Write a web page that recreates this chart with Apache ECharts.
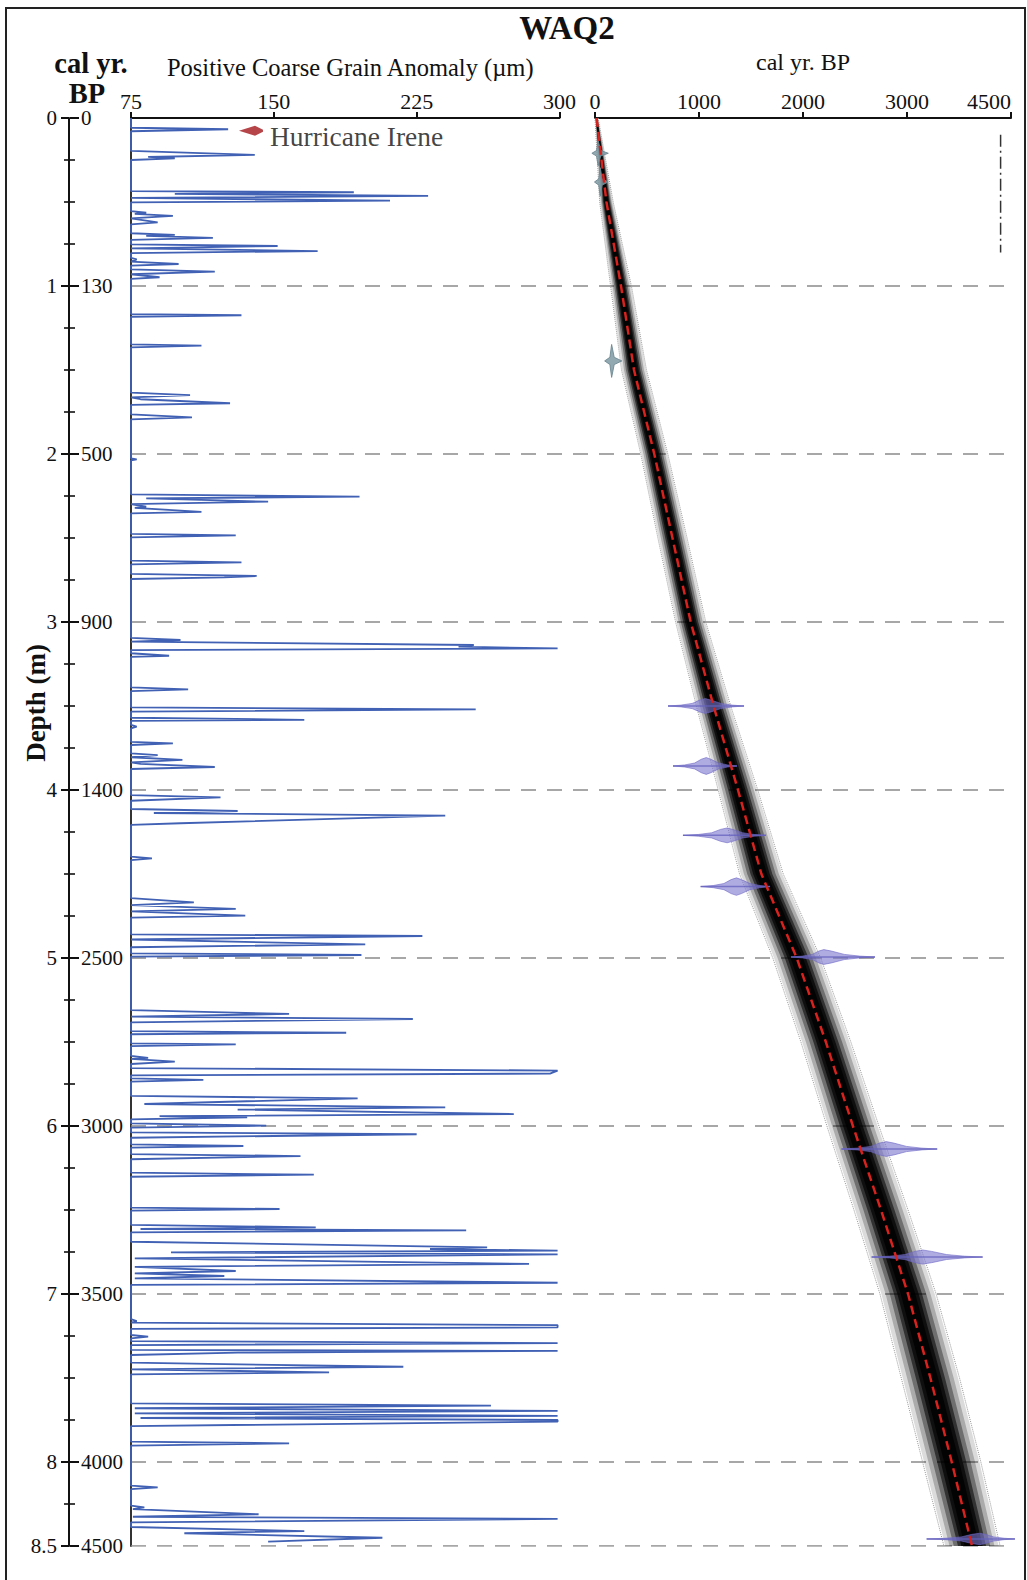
<!DOCTYPE html>
<html>
<head>
<meta charset="utf-8">
<title>WAQ2</title>
<script src="https://cdn.jsdelivr.net/npm/echarts@6/dist/echarts.min.js"></script>
<style>
  html, body { margin: 0; padding: 0; background: #fff; }
  #chart { width: 1027px; height: 1580px; }
</style>
</head>
<body>
<div id="chart"></div>
<script>
const SERIF = 'Liberation Serif, DejaVu Serif, serif';

// depth axis (m) and the matching cal yr BP labels
const depthTicks = [0, 1, 2, 3, 4, 5, 6, 7, 8, 8.5];
const calBpTicks = [0, 130, 500, 900, 1400, 2500, 3000, 3500, 4000, 4500];
const gridDepths = [1, 2, 3, 4, 5, 6, 7, 8, 8.5];

// positive coarse grain anomaly profile, [depth m, µm]
const grainM0 = [
  [0, 75], [0.058, 75], [0.067, 126], [0.079, 75],
  [0.196, 75], [0.220, 140], [0.232, 84], [0.240, 98], [0.250, 75],
  [0.435, 75], [0.442, 192], [0.452, 98], [0.463, 231], [0.476, 75], [0.492, 211], [0.502, 75],
  [0.554, 75], [0.564, 83], [0.571, 77], [0.583, 97], [0.597, 75], [0.621, 89], [0.633, 75],
  [0.686, 75], [0.696, 98], [0.702, 83], [0.713, 118], [0.726, 75], [0.752, 75], [0.762, 152],
  [0.776, 75], [0.792, 173], [0.804, 75],
  [0.833, 75], [0.842, 78], [0.855, 75], [0.869, 100], [0.879, 75], [0.901, 75], [0.915, 119],
  [0.930, 75], [0.948, 90], [0.958, 75]
];
const grainM1 = [
  [1.167, 75], [1.174, 133], [1.183, 75],
  [1.347, 75], [1.355, 112], [1.365, 75],
  [1.635, 75], [1.649, 106], [1.663, 75], [1.674, 80], [1.698, 127], [1.708, 75],
  [1.764, 75], [1.782, 107], [1.794, 75]
];
const grainM2 = [
  [2.026, 75], [2.032, 78], [2.038, 75],
  [2.240, 75], [2.254, 195], [2.264, 83], [2.284, 147], [2.298, 75], [2.314, 83], [2.321, 77],
  [2.344, 112], [2.353, 75],
  [2.476, 75], [2.484, 130], [2.496, 75],
  [2.635, 75], [2.645, 133], [2.657, 75],
  [2.714, 75], [2.726, 141], [2.734, 124], [2.744, 75]
];
const grainM3 = [
  [3.094, 75], [3.107, 101], [3.117, 75], [3.137, 255], [3.147, 247], [3.157, 299], [3.167, 75],
  [3.186, 75], [3.201, 95], [3.208, 75],
  [3.389, 75], [3.401, 105], [3.411, 75],
  [3.508, 75], [3.520, 256], [3.534, 75],
  [3.570, 75], [3.582, 166], [3.589, 75],
  [3.613, 75], [3.623, 78], [3.633, 75],
  [3.713, 75], [3.722, 97], [3.732, 75],
  [3.782, 75], [3.792, 89], [3.805, 75], [3.821, 102], [3.836, 75], [3.845, 80], [3.863, 119], [3.875, 75]
];
const grainM4 = [
  [4.030, 75], [4.044, 122], [4.064, 75],
  [4.113, 75], [4.125, 131], [4.137, 87], [4.153, 240], [4.198, 101], [4.208, 75],
  [4.397, 75], [4.407, 86], [4.417, 75],
  [4.643, 75], [4.669, 108], [4.685, 75], [4.708, 130], [4.723, 75], [4.748, 135], [4.760, 75],
  [4.859, 75], [4.869, 228], [4.890, 75], [4.919, 198], [4.936, 75],
  [4.972, 75], [4.982, 196], [4.992, 75]
];
const grainM5 = [
  [5.310, 75], [5.333, 158], [5.349, 75], [5.363, 223], [5.383, 75],
  [5.435, 75], [5.445, 188], [5.454, 75],
  [5.508, 75], [5.514, 130], [5.524, 75],
  [5.583, 75], [5.594, 84], [5.601, 75], [5.617, 98], [5.631, 75],
  [5.655, 75], [5.670, 299], [5.688, 295], [5.699, 75],
  [5.716, 75], [5.726, 113], [5.736, 75],
  [5.821, 75], [5.835, 194], [5.869, 82], [5.889, 240], [5.902, 131], [5.929, 276], [5.941, 90],
  [5.948, 136], [5.961, 75],
  [5.984, 75], [5.998, 146], [6.010, 75]
];
const grainM6 = [
  [6.038, 75], [6.049, 225], [6.070, 75],
  [6.109, 75], [6.119, 134], [6.129, 75],
  [6.167, 75], [6.179, 164], [6.198, 75],
  [6.278, 75], [6.290, 171], [6.302, 75],
  [6.486, 75], [6.494, 153], [6.504, 75],
  [6.589, 75], [6.603, 172], [6.613, 80], [6.621, 251], [6.633, 75],
  [6.689, 75], [6.722, 262], [6.732, 232], [6.742, 299], [6.752, 96], [6.764, 299], [6.788, 77],
  [6.821, 284], [6.838, 77], [6.863, 130], [6.877, 77], [6.893, 124], [6.907, 77], [6.933, 299], [6.946, 75]
];
const grainM7 = [
  [7.149, 75], [7.161, 78], [7.170, 75], [7.185, 299], [7.199, 299], [7.208, 75],
  [7.244, 75], [7.254, 84], [7.264, 75],
  [7.280, 75], [7.292, 299], [7.304, 75],
  [7.333, 75], [7.339, 299], [7.349, 131], [7.363, 75],
  [7.409, 75], [7.433, 218], [7.449, 75], [7.466, 179], [7.478, 75],
  [7.651, 75], [7.665, 264], [7.680, 77], [7.696, 299], [7.710, 77], [7.726, 299], [7.738, 80],
  [7.750, 299], [7.760, 299], [7.786, 75],
  [7.879, 75], [7.889, 158], [7.903, 75]
];
const grainM8 = [
  [8.141, 75], [8.151, 89], [8.161, 75],
  [8.260, 75], [8.270, 82], [8.280, 76], [8.311, 142], [8.326, 76], [8.339, 299], [8.359, 75],
  [8.387, 75], [8.411, 166], [8.424, 103], [8.451, 207], [8.474, 147]
];
const grainTicks = [75, 150, 225, 300];

// age-depth model (cal yr BP on the right panel)
const ageTickLabels = ['0', '1000', '2000', '3000', '4500'];
const modelDepth = [0, 0.5, 1, 1.5, 2, 2.5, 3, 3.5, 4, 4.5, 5, 5.5, 6, 6.5, 7, 7.5, 8, 8.5];
const modelMean = [15, 110, 250, 375, 570, 745, 920, 1140, 1375, 1600, 1940, 2220, 2480, 2750, 3010, 3225, 3430, 3625];
const modelLower = [0, 45, 150, 255, 440, 605, 775, 975, 1185, 1390, 1710, 1980, 2230, 2490, 2740, 2945, 3150, 3355];
const modelUpper = [30, 175, 350, 495, 700, 885, 1065, 1305, 1565, 1810, 2170, 2460, 2730, 3010, 3280, 3505, 3710, 3895];

// calibrated radiocarbon dates (purple)
const c14Depth = [3.500, 3.857, 4.270, 4.575, 4.994, 6.137, 6.780, 8.458];
const c14Min = [702, 750, 846, 1016, 1884, 2370, 2660, 3189];
const c14Mode = [1060, 1070, 1270, 1360, 2200, 2800, 3150, 3700];
const c14Max = [1433, 1365, 1644, 1683, 2692, 3290, 3727, 4038];
const c14Height = [0.044, 0.050, 0.044, 0.052, 0.044, 0.044, 0.042, 0.034];

// short-lived / modern markers (grey-blue)
const modDepth = [0.210, 0.381, 1.446];
const modMin = [-30, -5, 93];
const modMode = [30, 50, 160];
const modMax = [128, 125, 258];
const modHeight = [0.075, 0.085, 0.098];

const ireneDepth = 0.076;
const ireneValue = 138;
const refLineAge = 3900;
const refLineDepth = [0.1, 0.8];

// density shading of the age model: fraction of the 95% range and its opacity
const bandLevels = [0.95, 0.8, 0.65, 0.5, 0.38, 0.26];
const bandAlpha = [0.14, 0.22, 0.35, 0.55, 0.7, 0.8];

const TOP = 118;
const HEIGHT = 1428;

const chart = echarts.init(document.getElementById('chart'), null, { renderer: 'svg' });

const depthAxisBase = {
  type: 'value', min: 0, max: 8.5, inverse: true,
  splitLine: { show: false },
};
const gridBase = { top: TOP, height: HEIGHT, containLabel: false, outerBoundsMode: 'none' };

function shapePoints(api, depth, lo, mode, hi, h, star) {
  let top;
  if (star) {
    top = [[lo, 0], [mode - 0.25 * (mode - lo), -0.22 * h], [mode, -h],
      [mode + 0.25 * (hi - mode), -0.22 * h], [hi, 0]];
  } else {
    top = [[lo, 0], [lo + 0.35 * (mode - lo), -0.12 * h], [lo + 0.65 * (mode - lo), -0.35 * h],
      [mode - 0.15 * (mode - lo), -0.8 * h], [mode, -h], [mode + 0.15 * (hi - mode), -0.8 * h],
      [mode + 0.4 * (hi - mode), -0.35 * h], [mode + 0.7 * (hi - mode), -0.12 * h], [hi, 0]];
  }
  const bottom = top.slice(1, -1).reverse().map(([a, dy]) => [a, -dy]);
  return top.concat(bottom).map(([a, dy]) => api.coord([a, depth + dy]));
}

const gridSeries = gridDepths.map((d) => ({
  type: 'line', xAxisIndex: 4, yAxisIndex: 6, z: 1, silent: true,
  symbol: 'none', data: [[0, d], [1, d]],
  lineStyle: { color: '#8a8a8a', width: 1.4, type: [15, 11] },
}));

chart.setOption({
  animation: false,
  backgroundColor: '#fff',
  textStyle: { fontFamily: SERIF, color: '#111' },
  grid: [
    { ...gridBase, left: 69, width: 1 },
    { ...gridBase, left: 69, width: 1 },
    { ...gridBase, left: 131, width: 428.5 },
    { ...gridBase, left: 595, width: 416 },
    { ...gridBase, left: 131, width: 882 },
  ],
  xAxis: [
    { gridIndex: 0, type: 'value', show: false, min: 0, max: 1 },
    { gridIndex: 1, type: 'value', show: false, min: 0, max: 1 },
    {
      gridIndex: 2, type: 'value', position: 'top', min: 75, max: 300, interval: 75,
      name: 'Positive Coarse Grain Anomaly (µm)', nameLocation: 'middle', nameGap: 38,
      nameTextStyle: { fontSize: 24.5, fontFamily: SERIF, color: '#111', padding: [0, 0, 0, 10] },
      axisLine: { lineStyle: { color: '#111', width: 2 } },
      axisTick: { length: 6, lineStyle: { color: '#111', width: 2 } },
      axisLabel: { fontSize: 22, fontFamily: SERIF, color: '#111', margin: 6,
        formatter: (v) => (grainTicks.includes(v) ? String(v) : '') },
      splitLine: { show: false },
    },
    {
      gridIndex: 3, type: 'value', position: 'top', min: 0, max: 4000, interval: 1000,
      name: 'cal yr. BP', nameLocation: 'middle', nameGap: 44,
      nameTextStyle: { fontSize: 24, fontFamily: SERIF, color: '#111' },
      axisLine: { lineStyle: { color: '#111', width: 2 } },
      axisTick: { length: 6, lineStyle: { color: '#111', width: 2 } },
      axisLabel: { fontSize: 22, fontFamily: SERIF, color: '#111', margin: 6,
        alignMaxLabel: 'right',
        formatter: (v) => ageTickLabels[Math.round(v / 1000)] },
      splitLine: { show: false },
    },
    { gridIndex: 4, type: 'value', show: false, min: 0, max: 1 },
  ],
  yAxis: [
    {
      ...depthAxisBase, gridIndex: 0, position: 'left', interval: 1,
      axisLine: { show: true, lineStyle: { color: '#111', width: 2 } },
      axisTick: { show: true, length: 8, lineStyle: { color: '#111', width: 2 } },
      axisLabel: { show: true, fontSize: 21, fontFamily: SERIF, color: '#111', margin: 12,
        showMinLabel: true, showMaxLabel: true, formatter: (v) => String(v) },
    },
    {
      ...depthAxisBase, gridIndex: 0, position: 'right', interval: 1,
      axisLine: { show: false },
      axisTick: { show: true, length: 9, lineStyle: { color: '#111', width: 2 } },
      axisLabel: { show: true, fontSize: 21, fontFamily: SERIF, color: '#111', margin: 11,
        showMinLabel: true, showMaxLabel: true,
        formatter: (v) => {
          const i = depthTicks.indexOf(v);
          return i >= 0 ? String(calBpTicks[i]) : '';
        } },
    },
    {
      ...depthAxisBase, gridIndex: 1, position: 'left', interval: 0.25,
      axisLine: { show: false },
      axisTick: { show: true, length: 5, lineStyle: { color: '#111', width: 1.6 } },
      axisLabel: { show: false },
    },
    {
      ...depthAxisBase, gridIndex: 1, position: 'right', interval: 0.25,
      axisLine: { show: false },
      axisTick: { show: true, length: 5, lineStyle: { color: '#111', width: 1.6 } },
      axisLabel: { show: false },
    },
    {
      ...depthAxisBase, gridIndex: 2, position: 'left',
      axisLine: { show: true, lineStyle: { color: '#333', width: 2 } },
      axisTick: { show: false }, axisLabel: { show: false },
    },
    { ...depthAxisBase, gridIndex: 3, show: false },
    { ...depthAxisBase, gridIndex: 4, show: false },
  ],
  graphic: [
    { type: 'rect', silent: true, z: 0, shape: { x: 6, y: 8, width: 1019, height: 1600 },
      style: { fill: 'none', stroke: '#222', lineWidth: 2 } },
    { type: 'text', x: 567, y: 28, style: { text: 'WAQ2', fontSize: 33, fontWeight: 'bold',
      fontFamily: SERIF, fill: '#111', align: 'center', verticalAlign: 'middle' } },
    { type: 'text', x: 91, y: 63, style: { text: 'cal yr.', fontSize: 28.5, fontWeight: 'bold',
      fontFamily: SERIF, fill: '#111', align: 'center', verticalAlign: 'middle' } },
    { type: 'text', x: 87, y: 93, style: { text: 'BP', fontSize: 28.5, fontWeight: 'bold',
      fontFamily: SERIF, fill: '#111', align: 'center', verticalAlign: 'middle' } },
    { type: 'text', x: 36, y: 703, rotation: Math.PI / 2, style: { text: 'Depth (m)', fontSize: 27,
      fontWeight: 'bold', fontFamily: SERIF, fill: '#111', align: 'center', verticalAlign: 'middle' } },
  ],
  series: [
    ...gridSeries,
    {
      name: 'grain', type: 'line', xAxisIndex: 2, yAxisIndex: 4, z: 3,
      symbol: 'none', showSymbol: false,
      data: [].concat(grainM0, grainM1, grainM2, grainM3, grainM4, grainM5, grainM6, grainM7, grainM8)
        .map(([d, v]) => [v, d]),
      lineStyle: { color: '#4161b4', width: 1.8 },
    },
    {
      name: 'irene', type: 'scatter', xAxisIndex: 2, yAxisIndex: 4, z: 4,
      symbol: 'path://M0,5 L16,0 L24,4 L24,6 L16,10 Z', symbolSize: [24, 10],
      itemStyle: { color: '#a3161a' },
      label: { show: true, position: 'right', distance: 7, offset: [0, 6],
        formatter: 'Hurricane Irene', fontSize: 27.5, fontFamily: SERIF, color: '#111' },
      data: [[ireneValue, ireneDepth]],
    },
    {
      name: 'band', type: 'custom', xAxisIndex: 3, yAxisIndex: 5, z: 2, silent: true,
      data: bandLevels.map(() => [modelMean[0], modelDepth[0]]),
      renderItem: (params, api) => {
        const f = bandLevels[params.dataIndex];
        const left = modelDepth.map((d, i) => api.coord([modelMean[i] - f * (modelMean[i] - modelLower[i]), d]));
        const right = modelDepth.map((d, i) => api.coord([modelMean[i] + f * (modelUpper[i] - modelMean[i]), d])).reverse();
        return { type: 'polygon', shape: { points: left.concat(right) },
          style: { fill: 'rgba(0,0,0,' + bandAlpha[params.dataIndex] + ')' } };
      },
    },
    {
      name: 'lower', type: 'line', xAxisIndex: 3, yAxisIndex: 5, z: 3, symbol: 'none',
      data: modelLower.map((a, i) => [a, modelDepth[i]]),
      lineStyle: { color: '#9a9a9a', width: 1, type: 'dotted' },
    },
    {
      name: 'upper', type: 'line', xAxisIndex: 3, yAxisIndex: 5, z: 3, symbol: 'none',
      data: modelUpper.map((a, i) => [a, modelDepth[i]]),
      lineStyle: { color: '#9a9a9a', width: 1, type: 'dotted' },
    },
    {
      name: 'dates', type: 'custom', xAxisIndex: 3, yAxisIndex: 5, z: 4, silent: true,
      data: c14Mode.map((m, i) => [m, c14Depth[i]]),
      renderItem: (params, api) => {
        const i = params.dataIndex;
        const pts = shapePoints(api, c14Depth[i], c14Min[i], c14Mode[i], c14Max[i], c14Height[i], false);
        const a = api.coord([c14Min[i], c14Depth[i]]);
        const b = api.coord([c14Max[i], c14Depth[i]]);
        return { type: 'group', children: [
          { type: 'polygon', shape: { points: pts },
            style: { fill: 'rgba(122,116,206,0.6)', stroke: 'rgba(110,104,196,0.6)', lineWidth: 1 } },
          { type: 'line', shape: { x1: a[0], y1: a[1], x2: b[0], y2: b[1] },
            style: { stroke: 'rgba(100,96,190,0.75)', lineWidth: 1.5 } },
        ] };
      },
    },
    {
      name: 'modern', type: 'custom', xAxisIndex: 3, yAxisIndex: 5, z: 4, silent: true,
      data: modMode.map((m, i) => [m, modDepth[i]]),
      renderItem: (params, api) => {
        const i = params.dataIndex;
        const pts = shapePoints(api, modDepth[i], modMin[i], modMode[i], modMax[i], modHeight[i], true);
        return { type: 'polygon', shape: { points: pts },
          style: { fill: 'rgba(128,154,164,0.85)', stroke: 'rgba(110,136,146,0.9)', lineWidth: 1 } };
      },
    },
    {
      name: 'mean', type: 'line', xAxisIndex: 3, yAxisIndex: 5, z: 5, symbol: 'none',
      data: modelMean.map((a, i) => [a, modelDepth[i]]),
      lineStyle: { color: '#d8221e', width: 2.5, type: [9, 5] },
    },
    {
      name: 'ref', type: 'line', xAxisIndex: 3, yAxisIndex: 5, z: 3, symbol: 'none',
      data: refLineDepth.map((d) => [refLineAge, d]),
      lineStyle: { color: '#333', width: 1.5, type: [12, 4, 2, 4] },
    },
  ],
});
</script>
</body>
</html>
